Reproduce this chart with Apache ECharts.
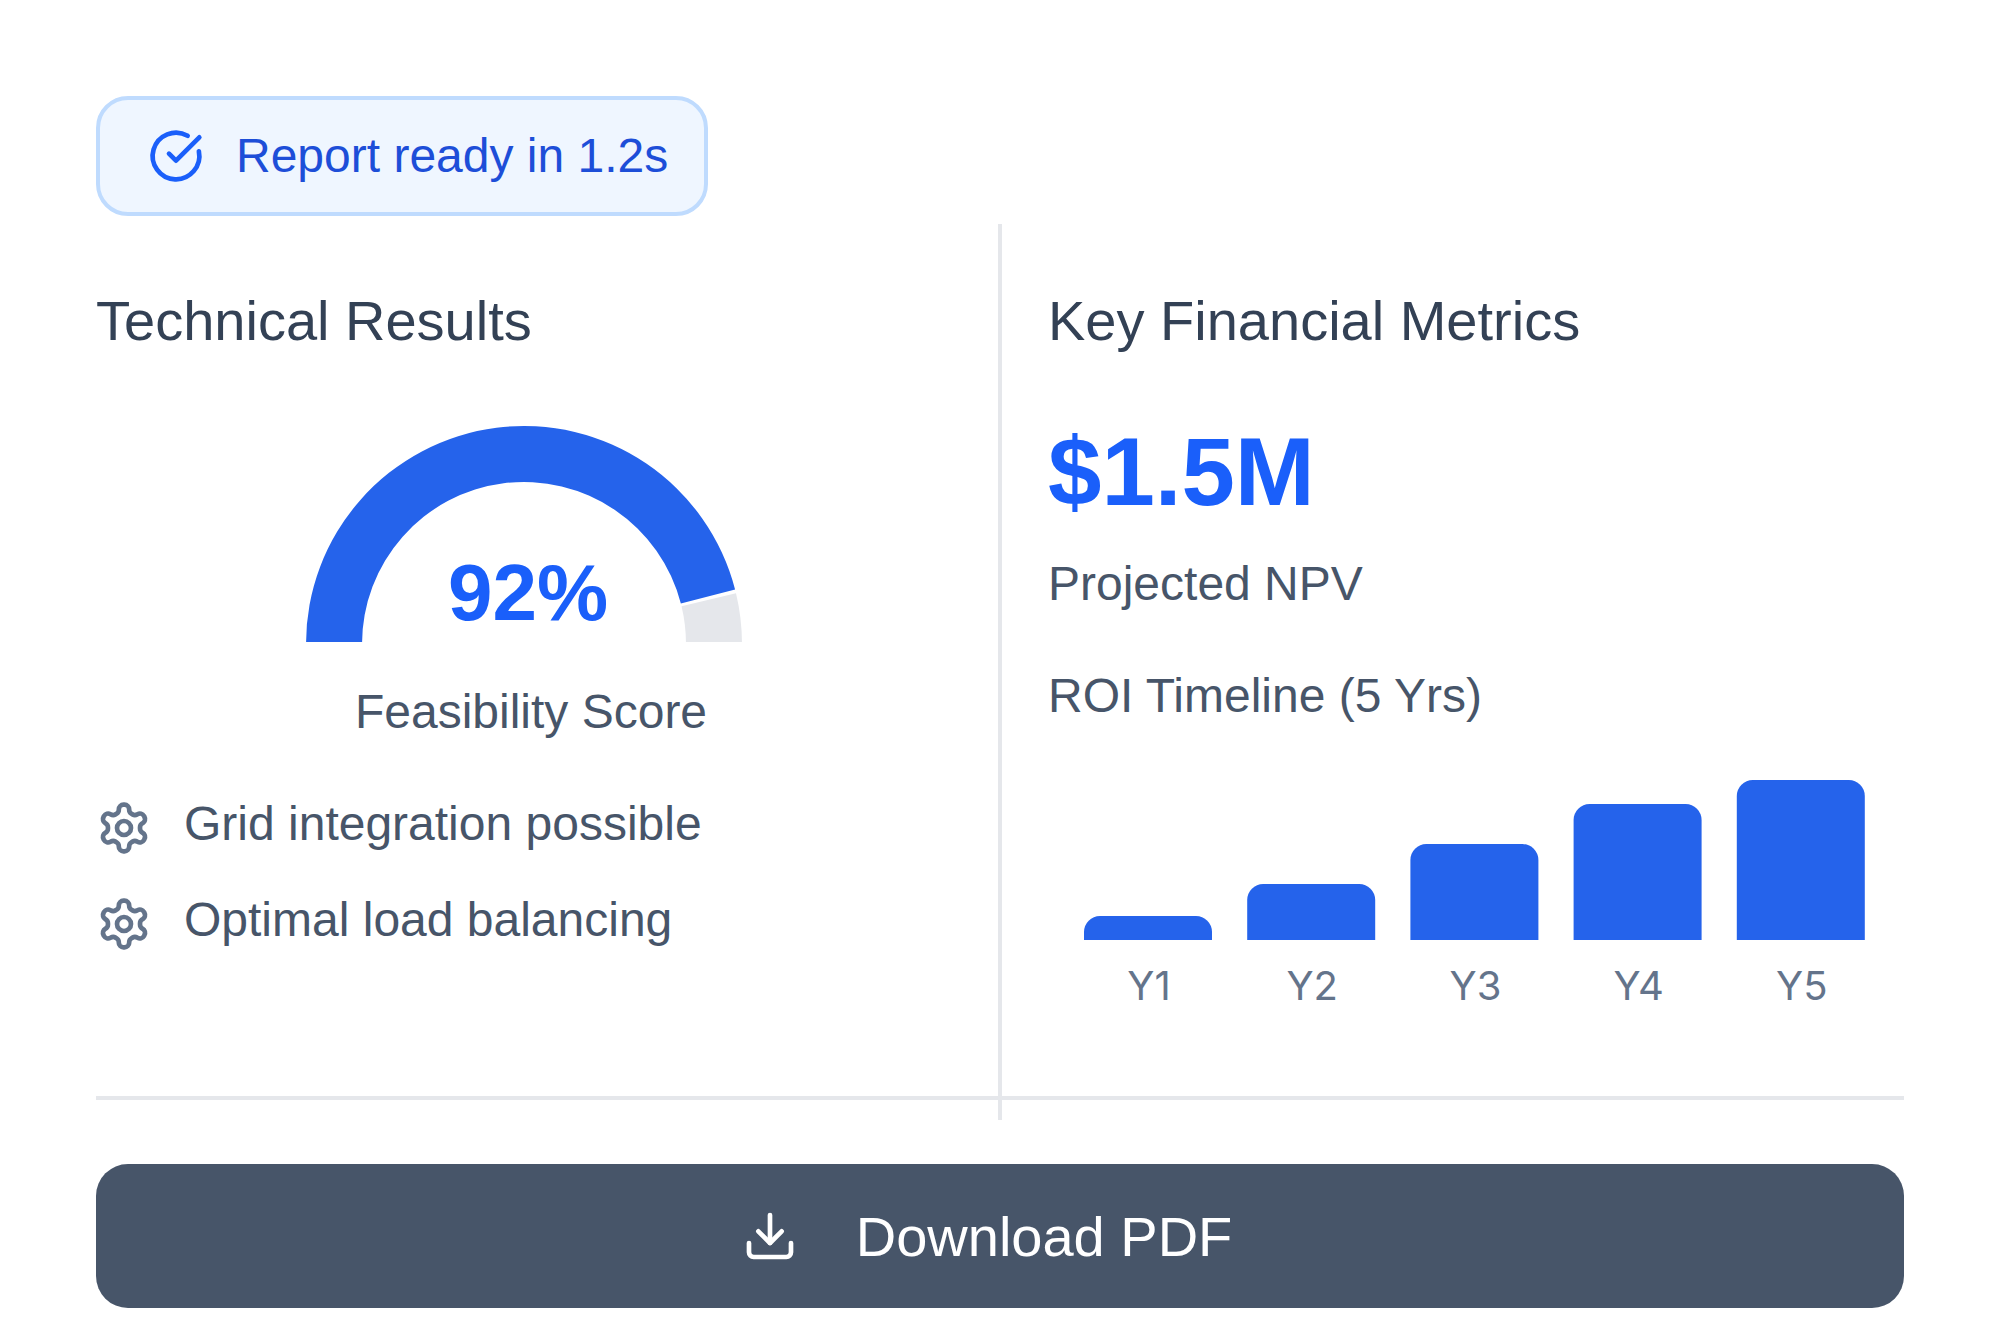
<!DOCTYPE html>
<html><head><meta charset="utf-8">
<style>html,body{margin:0;padding:0;background:#fff}#c{width:2000px;height:1344px}</style>
<script src="https://cdn.jsdelivr.net/npm/echarts@6/dist/echarts.min.js"></script>
</head><body><div id="c"></div>
<script>
const feasibilityLabels = ['Score', 'Remaining'];
const feasibilityValues = [92, 8];
const roiCategories = ['Y1', 'Y2', 'Y3', 'Y4', 'Y5'];
const roiValues = [15, 35, 60, 85, 100];
const badgeText = 'Report ready in 1.2s';
const leftTitle = 'Technical Results';
const rightTitle = 'Key Financial Metrics';
const gaugeText = '92%';
const gaugeCaption = 'Feasibility Score';
const featureTexts = ['Grid integration possible', 'Optimal load balancing'];
const npvText = '$1.5M';
const npvCaption = 'Projected NPV';
const roiCaption = 'ROI Timeline (5 Yrs)';
const buttonText = 'Download PDF';

const FONT = '"Liberation Sans", Arial, sans-serif';
const BLUE = '#2563eb', STRONG = '#1a5ffa', LINE = '#e5e7eb';

function txt(s, x, base, size, color, weight, align) {
  return {
    type: 'text', x: x, y: base - size * 0.345, silent: true,
    style: { text: s, fontFamily: FONT, fontSize: size, fontWeight: weight || 'normal',
      fill: color, textAlign: align || 'left', textVerticalAlign: 'middle', verticalAlign: 'middle' }
  };
}
const ICONS = {
  check: ['M21.801 10A10 10 0 1 1 17 3.335', 'M9 11l3 3L22 4'],
  gear: ['M12.22 2h-.44a2 2 0 0 0-2 2v.18a2 2 0 0 1-1 1.73l-.43.25a2 2 0 0 1-2 0l-.15-.08a2 2 0 0 0-2.73.73l-.22.38a2 2 0 0 0 .73 2.73l.15.1a2 2 0 0 1 1 1.72v.51a2 2 0 0 1-1 1.74l-.15.09a2 2 0 0 0-.73 2.73l.22.38a2 2 0 0 0 2.73.73l.15-.08a2 2 0 0 1 2 0l.43.25a2 2 0 0 1 1 1.73V20a2 2 0 0 0 2 2h.44a2 2 0 0 0 2-2v-.18a2 2 0 0 1 1-1.73l.43-.25a2 2 0 0 1 2 0l.15.08a2 2 0 0 0 2.73-.73l.22-.39a2 2 0 0 0-.73-2.73l-.15-.08a2 2 0 0 1-1-1.74v-.5a2 2 0 0 1 1-1.74l.15-.09a2 2 0 0 0 .73-2.73l-.22-.38a2 2 0 0 0-2.73-.73l-.15.08a2 2 0 0 1-2 0l-.43-.25a2 2 0 0 1-1-1.73V4a2 2 0 0 0-2-2z',
         'M15 12a3 3 0 1 1-6 0a3 3 0 1 1 6 0z'],
  download: ['M21 15v4a2 2 0 0 1-2 2H5a2 2 0 0 1-2-2v-4', 'M7 10l5 5l5-5', 'M12 15V3']
};
function icon(name, x, y, color) {
  const k = 56 / 24;
  return ICONS[name].map(function (d) {
    return { type: 'path', x: x, y: y, scaleX: k, scaleY: k, shape: { d: d },
      style: { fill: 'transparent', stroke: color, lineWidth: 2, lineCap: 'round', lineJoin: 'round' } };
  });
}
const iconGroup = [].concat(
  icon('check', 148, 128, '#1a5ffa'),
  icon('gear', 96, 800, '#64748b'),
  icon('gear', 96, 896, '#64748b'),
  icon('download', 742, 1208, '#ffffff')
);

const chart = echarts.init(document.getElementById('c'), null, { width: 2000, height: 1344, renderer: 'svg' });
chart.setOption({
  animation: false,
  backgroundColor: '#ffffff',
  grid: { left: 1066.4, width: 816, top: 780, height: 160 },
  xAxis: { type: 'category', data: roiCategories,
    axisLine: { show: false }, axisTick: { show: false },
    axisLabel: { color: '#64748b', fontFamily: 'Inter, "Liberation Sans", sans-serif', fontSize: 40, margin: 25, padding: [0, 0, 0, 2] } },
  yAxis: { type: 'value', min: 0, max: 100, show: false },
  graphic: { elements: [
    { type: 'rect', shape: { x: 98, y: 98, width: 608, height: 116, r: 30 },
      style: { fill: '#eff6ff', stroke: '#bfdbfe', lineWidth: 4 }, silent: true },
    { type: 'rect', shape: { x: 998, y: 224, width: 4, height: 896 }, style: { fill: LINE }, silent: true },
    { type: 'rect', shape: { x: 96, y: 1096, width: 1808, height: 4 }, style: { fill: LINE }, silent: true },
    { type: 'rect', shape: { x: 96, y: 1164, width: 1808, height: 144, r: 32 }, style: { fill: '#475569' }, silent: true },
    { type: 'rect', shape: { x: 296, y: 642, width: 456, height: 6 }, style: { fill: '#ffffff' }, z: 100, silent: true },
    txt(badgeText, 236, 172, 48, '#1d4ed8'),
    txt(leftTitle, 96, 340, 56, '#334155'),
    txt(rightTitle, 1048, 340, 56, '#334155'),
    txt(gaugeText, 528, 620, 80, STRONG, 'bold', 'center'),
    txt(gaugeCaption, 531, 728, 48, '#475569', 'normal', 'center'),
    txt(featureTexts[0], 184, 840, 48, '#475569'),
    txt(featureTexts[1], 184, 936, 48, '#475569'),
    txt(npvText, 1048, 505, 96, STRONG, 'bold'),
    txt(npvCaption, 1048, 600, 48, '#475569'),
    txt(roiCaption, 1048, 712, 48, '#475569'),
    txt(buttonText, 1044, 1256, 56, '#ffffff', 'normal', 'center')
  ] },
  series: [
    { type: 'pie', silent: true, center: [524, 644], radius: [162, 218],
      startAngle: 180.5, endAngle: -0.5, padAngle: 1, label: { show: false }, labelLine: { show: false },
      emphasis: { disabled: true },
      data: feasibilityValues.map(function (v, i) {
        return { name: feasibilityLabels[i], value: v, itemStyle: { color: i === 0 ? BLUE : LINE } };
      }) },
    { type: 'bar', data: roiValues, barWidth: 128, silent: true,
      itemStyle: { color: BLUE, borderRadius: [16, 16, 0, 0] } },
    { type: 'custom', coordinateSystem: 'none', silent: true, data: [0], z: 10,
      renderItem: function () { return { type: 'group', children: iconGroup }; } }
  ]
});
</script></body></html>
